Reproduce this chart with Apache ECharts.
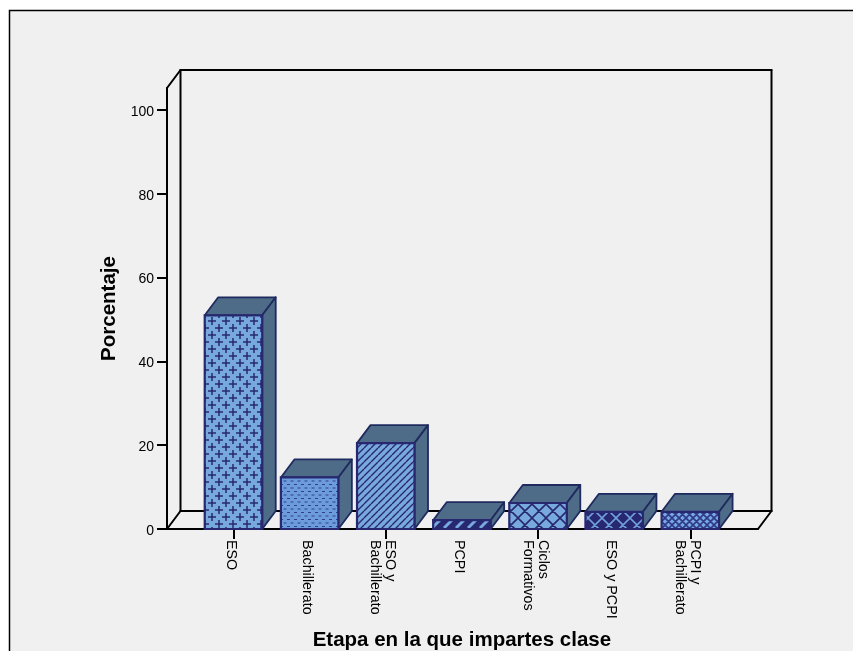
<!DOCTYPE html>
<html lang="es">
<head>
<meta charset="utf-8">
<title>Etapa en la que impartes clase</title>
<style>
  html, body { margin: 0; padding: 0; background: #ffffff; }
  #chart { width: 853px; height: 651px; }
</style>
<script src="https://cdn.jsdelivr.net/npm/echarts@6/dist/echarts.min.js"></script>
</head>
<body>
<div id="chart"></div>
<script>
// Percentage of respondents per teaching stage
const categories = ['ESO', 'Bachillerato', 'ESO y\nBachillerato', 'PCPI', 'Ciclos\nFormativos', 'ESO y PCPI', 'PCPI y\nBachillerato'];
const percentages = [51, 12.3, 20.5, 2.1, 6.2, 4.1, 4.1];
const yTicks = [0, 20, 40, 60, 80, 100];
const hatches = ['plus', 'dash', 'diagonal', 'band', 'lattice', 'darkLattice', 'fineLattice'];

const FONT = '"Liberation Sans", Arial, sans-serif';
const LIGHT = '#78a9de';
const NAVY = '#27286f';
const SHADE = '#4e6c88';
const EDGE = '#1f2a5e';
const DEPTH_X = 13.5;
const DEPTH_Y = -18;
const BAR_RATIO = 0.755;
const FLOOR_LEFT = 167;
const FLOOR_RIGHT = 758;
const Y_MAX = 105.25;

// Repeating fill tiles for the bar fronts
function tile(w, h, bg, paint) {
  const c = document.createElement('canvas');
  c.width = w;
  c.height = h;
  const g = c.getContext('2d');
  g.fillStyle = bg;
  g.fillRect(0, 0, w, h);
  paint(g);
  return { image: c, repeat: 'repeat' };
}

function wrapped(g, w, h, draw) {
  for (let i = -1; i <= 1; i++) {
    for (let j = -1; j <= 1; j++) {
      g.save();
      g.translate(i * w, j * h);
      draw();
      g.restore();
    }
  }
}

function diagonals(g, size, width, colour) {
  g.strokeStyle = colour;
  g.lineWidth = width;
  g.beginPath();
  for (let k = -1; k <= 2; k++) {
    g.moveTo(k * size - size, size);
    g.lineTo(k * size, 0);
  }
  g.stroke();
}

function lattice(size, bg, line, width) {
  return tile(size, size, bg, function (g) {
    g.strokeStyle = line;
    g.lineWidth = width;
    g.beginPath();
    for (let k = -1; k <= 2; k++) {
      g.moveTo(k * size - size, size);
      g.lineTo(k * size, 0);
      g.moveTo(k * size, size);
      g.lineTo(k * size - size, 0);
    }
    g.stroke();
  });
}

const fills = {
  plus: tile(14, 14, LIGHT, function (g) {
    g.fillStyle = NAVY;
    wrapped(g, 14, 14, function () {
      [[2, 13], [9, 6]].forEach(function (p) {
        g.fillRect(p[0] - 4, p[1] - 0.75, 8, 1.5);
        g.fillRect(p[0] - 0.75, p[1] - 4, 1.5, 8);
      });
    });
  }),
  dash: tile(7, 7, '#6c9cdb', function (g) {
    g.fillStyle = '#30408a';
    wrapped(g, 7, 7, function () {
      g.fillRect(0, 1, 3, 1);
      g.fillRect(3.5, 4.5, 3, 1);
    });
  }),
  diagonal: tile(7, 7, LIGHT, function (g) { diagonals(g, 7, 1.4, NAVY); }),
  band: tile(12, 12, NAVY, function (g) { diagonals(g, 12, 3, LIGHT); }),
  lattice: lattice(14, LIGHT, NAVY, 1.6),
  darkLattice: lattice(14, NAVY, '#6f9fdc', 1.6),
  fineLattice: lattice(7, LIGHT, '#2f3a8c', 1.7)
};

// Back walls, floor and the raised end of the value axis
function renderFrame(params, api) {
  const zero = api.coord([0, 0])[1];
  const top = api.coord([0, Y_MAX])[1];
  const bx = FLOOR_LEFT + DEPTH_X;
  const rx = FLOOR_RIGHT + DEPTH_X;
  const segments = [
    [[FLOOR_LEFT, zero], [FLOOR_RIGHT, zero]],
    [[FLOOR_RIGHT, zero], [rx, zero + DEPTH_Y]],
    [[bx, zero + DEPTH_Y], [rx, zero + DEPTH_Y]],
    [[FLOOR_LEFT, zero], [bx, zero + DEPTH_Y]],
    [[FLOOR_LEFT, top], [bx, top + DEPTH_Y]],
    [[bx, top + DEPTH_Y], [rx, top + DEPTH_Y]],
    [[rx, top + DEPTH_Y], [rx, zero + DEPTH_Y]],
    [[bx, top + DEPTH_Y], [bx, zero + DEPTH_Y]]
  ];
  return {
    type: 'group',
    children: segments.map(function (s) {
      return {
        type: 'line',
        shape: { x1: s[0][0], y1: s[0][1], x2: s[1][0], y2: s[1][1] },
        style: { stroke: '#000000', lineWidth: 2, lineCap: 'round' }
      };
    })
  };
}

// One box per category: front face with its hatch, then top and right faces
function renderBar(params, api) {
  const i = api.value(0);
  const base = api.coord([i, 0]);
  const head = api.coord([i, api.value(1)]);
  const w = api.size([1, 0])[0] * BAR_RATIO;
  const x0 = base[0] - w / 2;
  const x1 = base[0] + w / 2;
  const line = { stroke: EDGE, lineWidth: 1.8, lineJoin: 'round' };
  return {
    type: 'group',
    children: [
      {
        type: 'polygon',
        shape: { points: [[x0, head[1]], [x0 + DEPTH_X, head[1] + DEPTH_Y], [x1 + DEPTH_X, head[1] + DEPTH_Y], [x1, head[1]]] },
        style: Object.assign({ fill: SHADE }, line)
      },
      {
        type: 'polygon',
        shape: { points: [[x1, head[1]], [x1 + DEPTH_X, head[1] + DEPTH_Y], [x1 + DEPTH_X, base[1] + DEPTH_Y], [x1, base[1]]] },
        style: Object.assign({ fill: SHADE }, line)
      },
      {
        type: 'rect',
        shape: { x: x0, y: head[1], width: w, height: base[1] - head[1] },
        style: { fill: fills[hatches[i]], stroke: NAVY, lineWidth: 2.2 }
      }
    ]
  };
}

const chart = echarts.init(document.getElementById('chart'), null, { renderer: 'canvas' });
chart.setOption({
  animation: false,
  backgroundColor: 'transparent',
  graphic: [{
    type: 'rect',
    z: -10,
    silent: true,
    shape: { x: 9.5, y: 10.5, width: 900, height: 700 },
    style: { fill: '#f0f0f0', stroke: '#000000', lineWidth: 1.5 }
  }],
  // The second grid carries only the tick labels, nudged off the tick marks
  grid: [
    { left: 195.4, width: 533, top: 88, height: 441, containLabel: false, outerBoundsMode: 'none' },
    { left: 192.4, width: 533, top: 90, height: 441, containLabel: false, outerBoundsMode: 'none' }
  ],
  xAxis: [
    {
      type: 'category',
      gridIndex: 0,
      data: categories,
      name: 'Etapa en la que impartes clase',
      nameLocation: 'middle',
      nameGap: 101,
      nameTextStyle: { fontFamily: FONT, fontSize: 20.5, fontWeight: 'bold', color: '#000000' },
      axisLine: { show: false },
      axisTick: { show: true, alignWithLabel: true, length: 10, lineStyle: { color: '#000000', width: 2 } },
      axisLabel: { show: false }
    },
    {
      type: 'category',
      gridIndex: 1,
      data: categories,
      axisLine: { show: false },
      axisTick: { show: false },
      axisLabel: {
        interval: 0,
        rotate: -90,
        margin: 9,
        fontFamily: FONT,
        fontSize: 14.3,
        lineHeight: 15,
        color: '#000000',
        hideOverlap: false
      }
    }
  ],
  yAxis: [
    {
      type: 'value',
      gridIndex: 0,
      min: 0,
      max: Y_MAX,
      offset: 28.4,
      name: 'Porcentaje',
      nameLocation: 'middle',
      nameGap: 47,
      nameRotate: 90,
      nameTextStyle: { fontFamily: FONT, fontSize: 20.5, fontWeight: 'bold', color: '#000000' },
      splitLine: { show: false },
      axisLine: { show: true, lineStyle: { color: '#000000', width: 2 } },
      axisTick: { show: true, length: 10, customValues: yTicks, lineStyle: { color: '#000000', width: 2 } },
      axisLabel: { show: false }
    },
    {
      type: 'value',
      gridIndex: 1,
      min: 0,
      max: Y_MAX,
      offset: 28.4,
      splitLine: { show: false },
      axisLine: { show: false },
      axisTick: { show: false },
      axisLabel: { customValues: yTicks, margin: 10, fontFamily: FONT, fontSize: 14, color: '#000000' }
    }
  ],
  series: [
    { type: 'custom', silent: true, z: 1, clip: false, renderItem: renderFrame, data: [[0, 0]], encode: { x: 0, y: 1 } },
    {
      type: 'custom',
      silent: true,
      z: 2,
      clip: false,
      renderItem: renderBar,
      data: percentages.map(function (v, i) { return [i, v]; }),
      encode: { x: 0, y: 1 }
    }
  ]
});
</script>
</body>
</html>
